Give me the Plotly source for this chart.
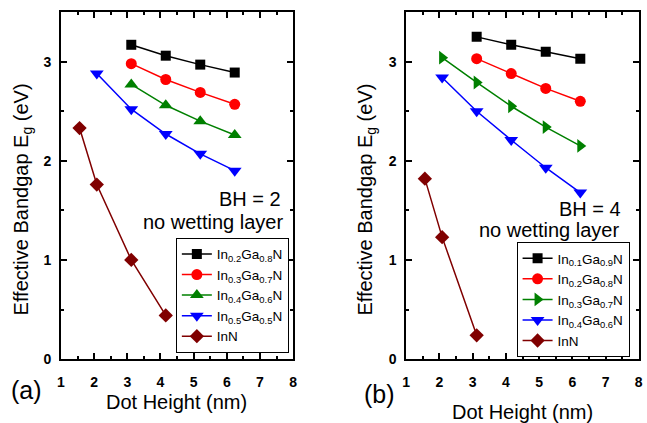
import plotly.graph_objects as go

# ---- data ----
x_a_main = [3.12, 4.16, 5.2, 6.24]
x_a_blue = [2.08, 3.12, 4.16, 5.2, 6.24]
x_a_inn = [1.56, 2.08, 3.12, 4.16]
a_in02 = [3.17, 3.06, 2.97, 2.89]
a_in03 = [2.98, 2.82, 2.69, 2.57]
a_in04 = [2.77, 2.56, 2.40, 2.26]
a_in05 = [2.88, 2.52, 2.27, 2.07, 1.90]
a_inn = [2.33, 1.76, 1.00, 0.44]

x_b_main = [3.12, 4.16, 5.2, 6.24]
x_b_long = [2.08, 3.12, 4.16, 5.2, 6.24]
x_b_inn = [1.56, 2.08, 3.12]
b_in01 = [3.25, 3.17, 3.10, 3.03]
b_in02 = [3.03, 2.88, 2.73, 2.60]
b_in03 = [3.04, 2.79, 2.55, 2.34, 2.15]
b_in04 = [2.84, 2.50, 2.21, 1.93, 1.68]
b_inn = [1.82, 1.23, 0.24]

names_a = ["In<sub>0.2</sub>Ga<sub>0.8</sub>N", "In<sub>0.3</sub>Ga<sub>0.7</sub>N",
           "In<sub>0.4</sub>Ga<sub>0.6</sub>N", "In<sub>0.5</sub>Ga<sub>0.5</sub>N", "InN"]
names_b = ["In<sub>0.1</sub>Ga<sub>0.9</sub>N", "In<sub>0.2</sub>Ga<sub>0.8</sub>N",
           "In<sub>0.3</sub>Ga<sub>0.7</sub>N", "In<sub>0.4</sub>Ga<sub>0.6</sub>N", "InN"]

x_ticks = [1, 2, 3, 4, 5, 6, 7, 8]
y_ticks = [0, 1, 2, 3]

colors = ["#000000", "#ff0000", "#008000", "#0000ff", "#800000"]
sym_a = ["square", "circle", "triangle-up", "triangle-down", "diamond"]
sym_b = ["square", "circle", "triangle-right", "triangle-down", "diamond"]
sizes = [10, 11, 12, 12, 11]

FONT = "Arial, Liberation Sans, sans-serif"
W, H = 647, 423

fig = go.Figure()

series_a = [(x_a_main, a_in02), (x_a_main, a_in03), (x_a_main, a_in04), (x_a_blue, a_in05), (x_a_inn, a_inn)]
series_b = [(x_b_main, b_in01), (x_b_main, b_in02), (x_b_long, b_in03), (x_b_long, b_in04), (x_b_inn, b_inn)]

for i, (xs, ys) in enumerate(series_a):
    fig.add_trace(go.Scatter(x=xs, y=ys, mode="lines+markers", name=names_a[i],
                             line=dict(color=colors[i], width=1.5),
                             marker=dict(symbol=sym_a[i], size=sizes[i], color=colors[i]),
                             xaxis="x", yaxis="y", legend="legend"))
for i, (xs, ys) in enumerate(series_b):
    fig.add_trace(go.Scatter(x=xs, y=ys, mode="lines+markers", name=names_b[i],
                             line=dict(color=colors[i], width=1.5),
                             marker=dict(symbol=sym_b[i], size=sizes[i], color=colors[i]),
                             xaxis="x2", yaxis="y2", legend="legend2"))

def px(x):
    return x / W

def py(y):
    return 1 - y / H

ax_common = dict(showline=True, linewidth=2, linecolor="black", mirror="ticks",
                 ticks="inside", ticklen=6, tickwidth=1.5, tickcolor="black",
                 showgrid=False, zeroline=False,
                 tickfont=dict(family=FONT, size=14, color="black"))
minor = dict(ticks="inside", ticklen=3, dtick=0.5, tickcolor="black", tickwidth=1.5)
xt = dict(tickmode="array", tickvals=x_ticks, ticktext=[f"<b>{v}</b>" for v in x_ticks],
          ticklabelstandoff=9)
yt = dict(tickmode="array", tickvals=y_ticks, ticktext=[f"<b>{v}</b>" for v in y_ticks],
          ticklabelstandoff=5)

ydom = [py(366), py(12.3)]
fig.update_layout(
    width=W, height=H, margin=dict(l=0, r=0, t=0, b=0),
    paper_bgcolor="white", plot_bgcolor="white",
    font=dict(family=FONT, color="black"),
    xaxis=dict(domain=[px(57.7), px(292.7)], range=[1, 8], anchor="y", minor=minor, **xt, **ax_common),
    yaxis=dict(domain=ydom, range=[0, 3.5], anchor="x", minor=minor, **yt, **ax_common),
    xaxis2=dict(domain=[px(407.3), px(642.7)], range=[1, 8], anchor="y2", minor=minor, **xt, **ax_common),
    yaxis2=dict(domain=ydom, range=[0, 3.5], anchor="x2", minor=minor, **yt, **ax_common),
    legend=dict(x=px(174), y=py(242.3), xanchor="left", yanchor="top",
                bordercolor="black", borderwidth=1, bgcolor="white",
                font=dict(family=FONT, size=13.5, color="black"), tracegroupgap=0),
    legend2=dict(x=px(519), y=py(246.7), xanchor="left", yanchor="top",
                 bordercolor="black", borderwidth=1, bgcolor="white",
                 font=dict(family=FONT, size=13.5, color="black"), tracegroupgap=0),
    showlegend=True,
)

def ann(text, x, y, size=20, xanchor="center", angle=0):
    fig.add_annotation(text=text, x=px(x), y=py(y), xref="paper", yref="paper",
                       xanchor=xanchor, yanchor="middle", showarrow=False, textangle=angle,
                       font=dict(family=FONT, size=size, color="black"))

ann("BH = 2", 282, 203, xanchor="right")
ann("no wetting layer", 285, 226, xanchor="right")
ann("BH = 4", 627, 213, xanchor="right")
ann("no wetting layer", 625, 234, xanchor="right")
ann("Effective Bandgap E<sub>g</sub> (eV)", 18.5, 203, angle=-90)
ann("Effective Bandgap E<sub>g</sub> (eV)", 367, 203, angle=-90)
ann("Dot Height (nm)", 175, 410)
ann("Dot Height (nm)", 525, 420)
ann("(a)", 23, 398, size=25)
ann("(b)", 380, 402, size=25)

fig.write_html("out.html")
